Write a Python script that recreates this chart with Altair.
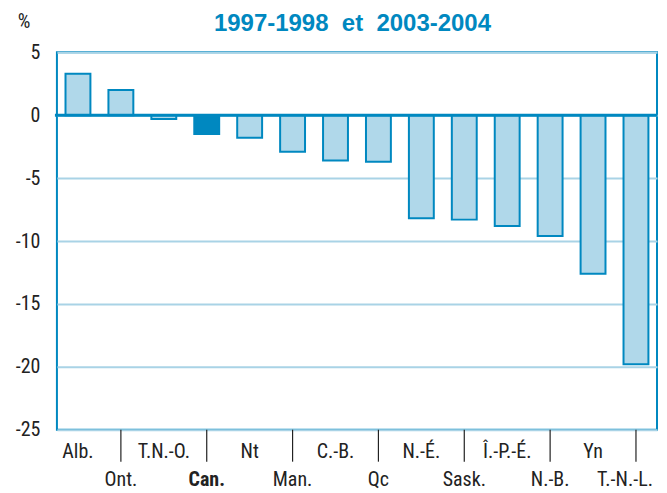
import altair as alt
import pandas as pd

categories = ["Alb.", "Ont.", "T.N.-O.", "Can.", "Nt", "Man.", "C.-B.", "Qc",
              "N.-É.", "Sask.", "Î.-P.-É.", "N.-B.", "Yn", "T.-N.-L."]
values = [3.3, 2.0, -0.3, -1.5, -1.8, -2.9, -3.6, -3.7,
          -8.2, -8.3, -8.8, -9.6, -12.6, -19.8]
y_ticks = [5, 0, -5, -10, -15, -20, -25]
title_text = "1997-1998\u00a0 et\u00a0 2003-2004"
unit_text = "%"

DARK = "#0088c0"
LIGHT = "#b0d8ea"
GRID = "#a9d3e6"
FONT = "Roboto Condensed, DejaVu Sans Condensed, Roboto, Liberation Sans"
TXT = "#222222"
FS = 20
W, H = 601, 378

df = pd.DataFrame({"cat": categories, "value": values, "idx": list(range(len(categories)))})

X = alt.X("cat:N", sort=categories, axis=None,
          scale=alt.Scale(paddingInner=0.42, paddingOuter=0.2))

base = alt.Chart(df)

bars = base.mark_bar(stroke=DARK, strokeWidth=2).encode(
    x=X,
    y=alt.Y("value:Q",
            scale=alt.Scale(domain=[-25, 5], nice=False, zero=False),
            axis=alt.Axis(values=y_ticks, grid=True, gridColor=GRID, gridWidth=2,
                          ticks=False, domain=False, labelFontSize=FS,
                          labelFont=FONT, labelColor=TXT, labelPadding=17,
                          labelExpr="toString(datum.value)",
                          title=None)),
    fill=alt.condition(alt.datum.cat == "Can.", alt.value(DARK), alt.value(LIGHT)),
)

zero = alt.Chart(pd.DataFrame({"z": [0]})).mark_rule(color=DARK, strokeWidth=3).encode(
    y="z:Q", x=alt.value(-2), x2=alt.value(W)
)

ticks = base.transform_filter("datum.idx % 2 == 1").mark_rule(
    color=TXT, strokeWidth=1.2
).encode(x=X, y=alt.value(H), y2=alt.value(H + 32))

top_labels = base.transform_filter("datum.idx % 2 == 0").mark_text(
    font=FONT, fontSize=FS, color=TXT, baseline="middle"
).encode(x=X, y=alt.value(H + 22), text="cat:N")

bottom_labels = base.transform_filter(
    "datum.idx % 2 == 1 && datum.cat != 'T.-N.-L.' && datum.cat != 'Can.'"
).mark_text(
    font=FONT, fontSize=FS, color=TXT, baseline="middle"
).encode(x=X, y=alt.value(H + 50), text="cat:N")

can_label = base.transform_filter("datum.cat == 'Can.'").mark_text(
    font=FONT, fontSize=FS, color=TXT, baseline="middle", fontWeight="bold"
).encode(x=X, y=alt.value(H + 50), text="cat:N")

last_label = base.transform_filter("datum.cat == 'T.-N.-L.'").mark_text(
    font=FONT, fontSize=FS, color=TXT, baseline="middle", dx=-11
).encode(x=X, y=alt.value(H + 50), text="cat:N")

title = alt.Chart(pd.DataFrame({"t": [title_text]})).mark_text(
    font="Liberation Sans", fontSize=24, fontWeight="bold", color=DARK,
    baseline="alphabetic", align="center"
).encode(x=alt.value(296), y=alt.value(-21), text="t:N")

unit = alt.Chart(pd.DataFrame({"t": [unit_text]})).mark_text(
    font=FONT, fontSize=FS, color=TXT, baseline="alphabetic", align="center"
).encode(x=alt.value(-33), y=alt.value(-24), text="t:N")

chart = alt.layer(bars, zero, ticks, top_labels, bottom_labels, can_label,
                  last_label, title, unit).properties(
    width=W, height=H,
    autosize=alt.AutoSizeParams(type="none"),
    padding={"left": 49, "top": 44, "right": 2, "bottom": 61},
).configure_view(stroke=DARK, strokeWidth=2)

chart.save("out.html", embed_options={"renderer": "svg", "actions": False})
